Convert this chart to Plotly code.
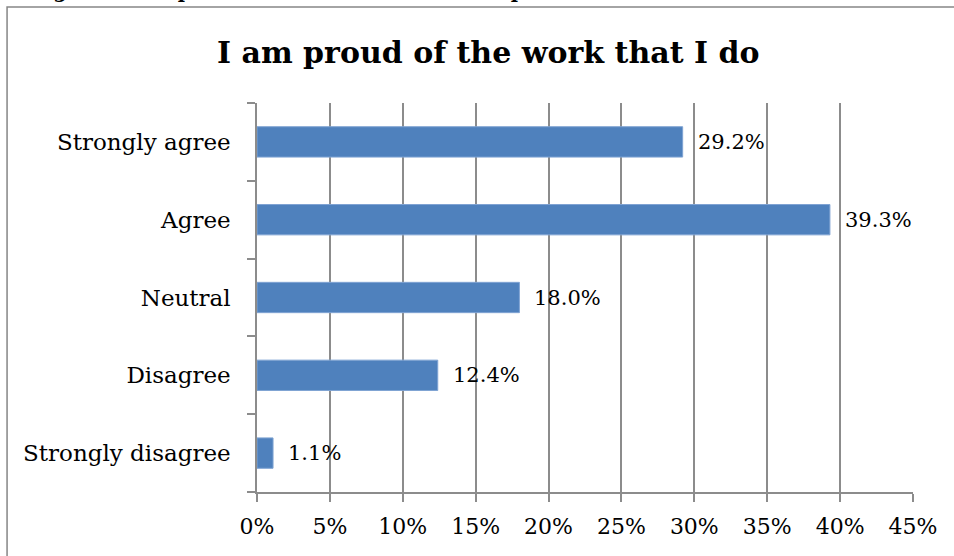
import plotly.graph_objects as go

# Survey responses to "I am proud of the work that I do"
categories = ["Strongly agree", "Agree", "Neutral", "Disagree", "Strongly disagree"]
shares = [0.292, 0.393, 0.180, 0.124, 0.011]
tick_vals = [0, 0.05, 0.10, 0.15, 0.20, 0.25, 0.30, 0.35, 0.40, 0.45]
tick_text = ["0%", "5%", "10%", "15%", "20%", "25%", "30%", "35%", "40%", "45%"]

SERIF = "Book Antiqua, Palatino Linotype, Palatino, DejaVu Serif, serif"
GRID = "#8c8c8c"
BAR = "#4f81bd"

fig = go.Figure(
    go.Bar(
        x=shares,
        y=categories,
        orientation="h",
        marker=dict(color=BAR, line=dict(color="#7fa3d3", width=1)),
        width=0.39,
        hoverinfo="skip",
    )
)

# value labels just past the end of each bar
for cat, v in zip(categories, shares):
    fig.add_annotation(
        x=v, y=cat, xref="x", yref="y",
        text=f"{v * 100:.1f}%", showarrow=False,
        xanchor="left", yanchor="middle", xshift=13,
        font=dict(family=SERIF, size=21, color="#000000"),
    )

# chart title
fig.add_annotation(
    x=0.352, y=1.131, xref="paper", yref="paper",
    text="<b>I am proud of the work that I do</b>", showarrow=False,
    xanchor="center", yanchor="middle",
    font=dict(family=SERIF, size=30, color="#000000"),
)

# figure caption above the chart frame (runs off the top of the page)
fig.add_annotation(
    x=-0.346, y=1.253, xref="paper", yref="paper",
    text="<b>Figure 3: Responses to the statement \u2018I am proud of the work that I do\u2019</b>",
    showarrow=False, xanchor="left", yanchor="bottom",
    font=dict(family=SERIF, size=19.5, color="#000000"),
)

# outer chart frame
fig.add_shape(
    type="rect", xref="paper", yref="paper",
    x0=-0.381, x1=1.2, y0=-0.5, y1=1.2468,
    line=dict(color="#868686", width=1.5), fillcolor="rgba(0,0,0,0)",
    layer="below",
)

fig.update_layout(
    width=954, height=556,
    margin=dict(l=257, r=41, t=103, b=64),
    paper_bgcolor="white", plot_bgcolor="white",
    showlegend=False,
    font=dict(family=SERIF, size=22, color="#000000"),
    xaxis=dict(
        range=[0, 0.45],
        tickvals=tick_vals, ticktext=tick_text,
        showgrid=True, gridcolor=GRID, gridwidth=1.5,
        ticks="outside", ticklen=8, tickcolor=GRID, tickwidth=1.5,
        showline=True, linecolor=GRID, linewidth=1.5,
        zeroline=False,
        ticklabelstandoff=6,
        tickfont=dict(family=SERIF, size=22, color="#000000"),
        fixedrange=True,
    ),
    yaxis=dict(
        categoryorder="array", categoryarray=categories[::-1],
        tickson="boundaries",
        ticks="outside", ticklen=8, tickcolor=GRID, tickwidth=1.5,
        showline=True, linecolor=GRID, linewidth=1.5,
        showgrid=False, zeroline=False,
        ticklabelstandoff=20,
        tickfont=dict(family=SERIF, size=23, color="#000000"),
        fixedrange=True,
    ),
)

fig.write_html("out.html")
